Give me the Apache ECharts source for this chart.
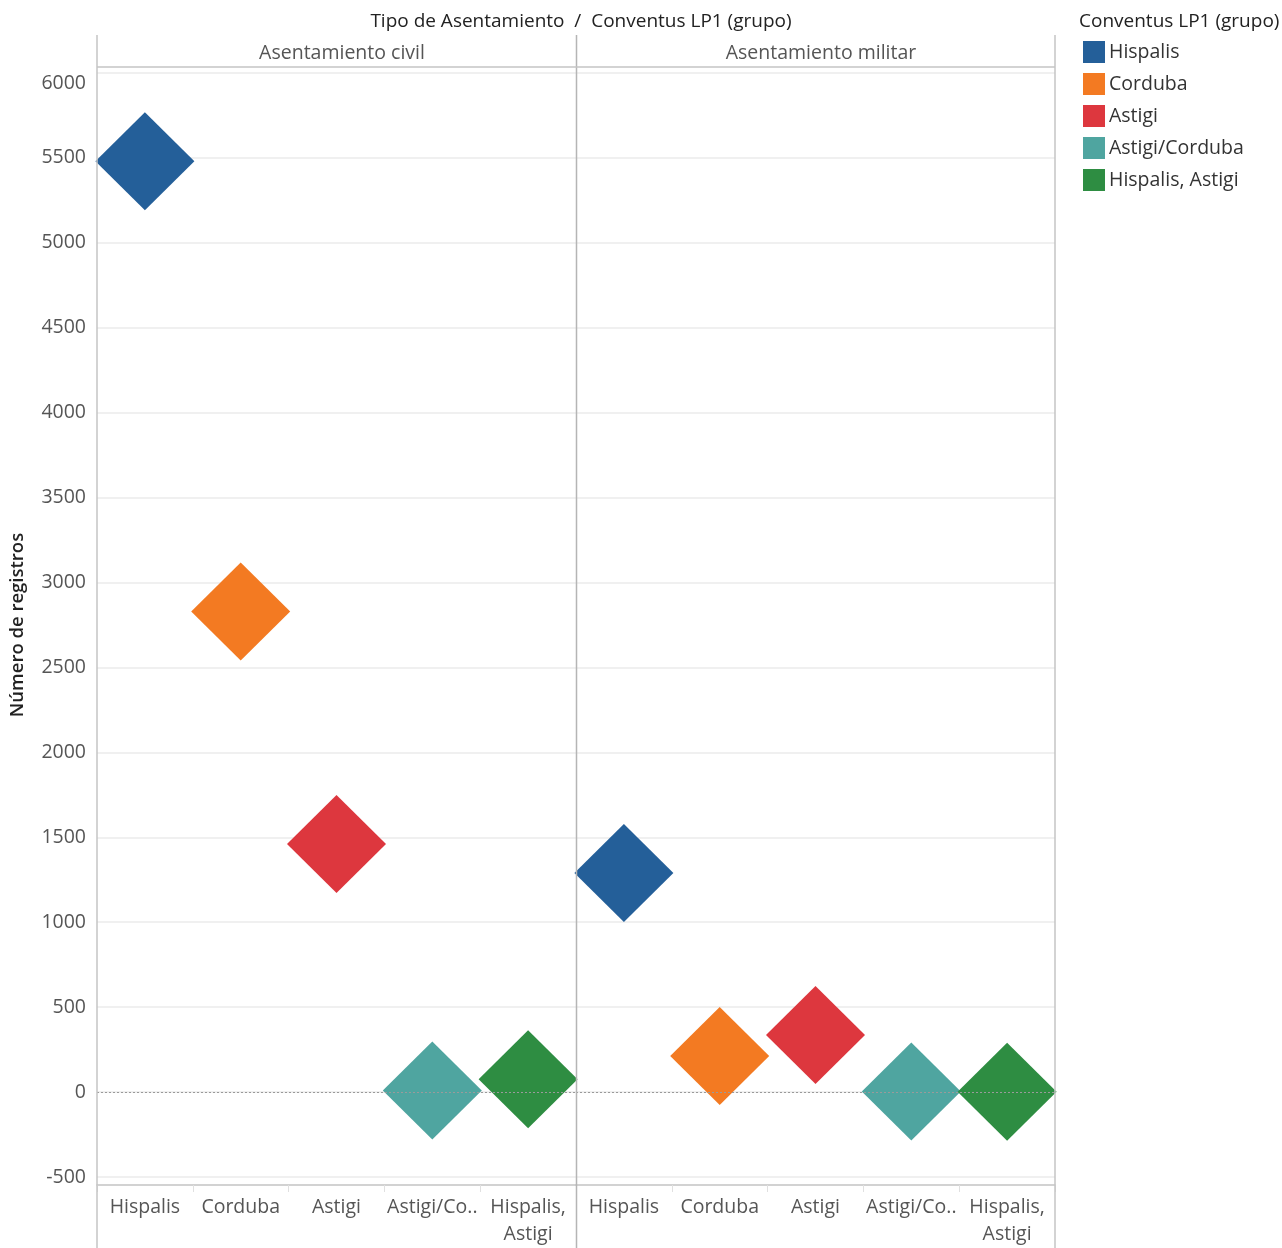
<!DOCTYPE html>
<html>
<head>
<meta charset="utf-8">
<script src="https://cdn.jsdelivr.net/npm/echarts@6/dist/echarts.min.js"></script>
<style>html,body{margin:0;padding:0;background:#fff;}#c{width:1282px;height:1248px;}</style>
</head>
<body>
<div id="c"></div>
<script>
var categories = ['Hispalis', 'Corduba', 'Astigi', 'Astigi/Corduba', 'Hispalis, Astigi'];
var tickLabels = ['Hispalis', 'Corduba', 'Astigi', 'Astigi/Co..', 'Hispalis,\nAstigi'];
var panels = ['Asentamiento civil', 'Asentamiento militar'];
var civilValues = [5480, 2830, 1460, 10, 75];
var militarValues = [1290, 212, 336, 3, 2];
var colors = ['#245f99', '#f37a22', '#dd373e', '#4fa5a0', '#2e8d42'];

var FONT = '"Open Sans"';
var panelValues = [civilValues, militarValues];
var gridL = [97, 576], gridW = 479;

var grids = [], xAxes = [], yAxes = [], series = [];
for (var p = 0; p < 2; p++) {
  grids.push({left: gridL[p], width: gridW, top: 73, bottom: 70, containLabel: false});
  xAxes.push({
    type: 'category', gridIndex: p, data: categories, offset: 8,
    axisLine: {show: true, onZero: false, lineStyle: {color: '#c4c4c4', width: 1.5}},
    axisTick: {show: true, alignWithLabel: false, length: 7, lineStyle: {color: '#e0e0e0'}},
    axisLabel: {
      interval: 0, margin: 9, color: '#555', fontFamily: FONT, fontSize: 19.5, lineHeight: 27,
      formatter: function (v, i) { return tickLabels[i]; }
    },
    splitLine: {show: false}
  });
  yAxes.push({
    type: 'value', gridIndex: p, min: -500, max: 6000, interval: 500,
    name: p === 0 ? 'Número de registros' : '',
    nameLocation: 'middle', nameGap: 70, nameRotate: 90,
    nameTextStyle: {color: '#222', fontFamily: FONT, fontSize: 18.5, fontWeight: 600},
    axisLine: {show: false}, axisTick: {show: false},
    axisLabel: {show: p === 0, margin: 11, color: '#555', fontFamily: FONT, fontSize: 19.5,
      verticalAlignMaxLabel: 'top',
      formatter: function (v) { return String(v); }},
    splitLine: {show: true, lineStyle: {color: '#ebebeb', width: 1.5}}
  });
  for (var s = 0; s < categories.length; s++) {
    var ser = {
      name: categories[s], type: 'scatter', xAxisIndex: p, yAxisIndex: p,
      symbol: 'diamond', symbolSize: [99, 98], clip: true,
      itemStyle: {color: colors[s], opacity: 1},
      emphasis: {disabled: true},
      data: [[s, panelValues[p][s]]]
    };
    if (s === 0) {
      ser.markLine = {
        silent: true, symbol: 'none', label: {show: false},
        lineStyle: {color: '#9a9a9a', type: [2, 2], width: 1},
        data: [{yAxis: 0}]
      };
    }
    series.push(ser);
  }
}

var lineCol = '#c4c4c4';
var option = {
  backgroundColor: '#fff',
  animation: false,
  color: colors,
  title: [
    {text: 'Tipo de Asentamiento  /  Conventus LP1 (grupo)', left: 576, top: 7, textAlign: 'center',
     textStyle: {color: '#222', fontFamily: FONT, fontSize: 19, fontWeight: 500}},
    {text: 'Conventus LP1 (grupo)', left: 1074, top: 7,
     textStyle: {color: '#222', fontFamily: FONT, fontSize: 19, fontWeight: 500}},
    {text: panels[0], left: 337, top: 38, textAlign: 'center',
     textStyle: {color: '#555', fontFamily: FONT, fontSize: 19.5, fontWeight: 'normal'}},
    {text: panels[1], left: 816, top: 38, textAlign: 'center',
     textStyle: {color: '#555', fontFamily: FONT, fontSize: 19.5, fontWeight: 'normal'}}
  ],
  legend: {
    data: categories, orient: 'vertical', left: 1078, top: 36,
    icon: 'rect', itemWidth: 22, itemHeight: 22, itemGap: 10,
    textStyle: {color: '#333', fontFamily: FONT, fontSize: 19.5, padding: [0, 0, 0, -1]},
    selectedMode: false
  },
  grid: grids, xAxis: xAxes, yAxis: yAxes, series: series,
  graphic: [
    {type: 'line', shape: {x1: 97, y1: 35, x2: 97, y2: 1248}, style: {stroke: lineCol, lineWidth: 1.5}, z: 100},
    {type: 'line', shape: {x1: 576.5, y1: 35, x2: 576.5, y2: 1248}, style: {stroke: '#b5b5b5', lineWidth: 1.5}, z: 100},
    {type: 'line', shape: {x1: 1055, y1: 35, x2: 1055, y2: 1248}, style: {stroke: lineCol, lineWidth: 1.5}, z: 100},
    {type: 'line', shape: {x1: 97, y1: 67, x2: 1055, y2: 67}, style: {stroke: lineCol, lineWidth: 1.5}, z: 100}
  ]
};
var chart = echarts.init(document.getElementById('c'));
chart.setOption(option);
</script>
</body>
</html>
